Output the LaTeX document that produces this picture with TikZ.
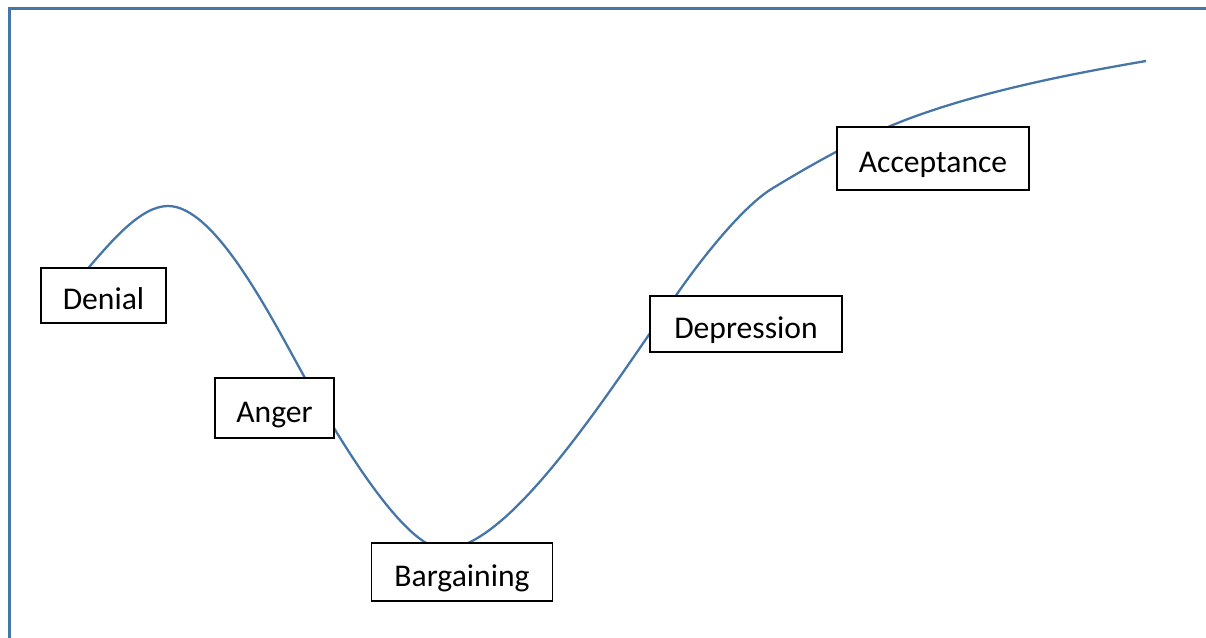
\documentclass[tikz,border=0pt]{standalone}
\usepackage{fontspec}
\setmainfont{Carlito}
\usetikzlibrary{backgrounds}
\pgfdeclarelayer{edgelayer}
\pgfdeclarelayer{nodelayer}
\pgfsetlayers{edgelayer,nodelayer,main}
\definecolor{stageblue}{RGB}{70,117,168}
\tikzset{font=\fontsize{18pt}{21pt}\selectfont}
\tikzstyle{stagebox}=[draw=black,fill=white,line width=0.9pt,inner sep=0pt,text height=16pt,text depth=0pt]
\tikzstyle{curve}=[draw=stageblue,line width=1.3pt]
\tikzstyle{frame}=[draw=stageblue,line width=1.7pt]

\begin{document}
\begin{tikzpicture}[x=0.02cm,y=-0.02cm]
	\useasboundingbox (0,0) rectangle (1206,638);
	\begin{pgfonlayer}{nodelayer}
		\node [style=stagebox,minimum width=2.5cm,minimum height=1.1cm] (denial) at (103.5,295.5) {Denial};
		\node [style=stagebox,minimum width=2.38cm,minimum height=1.2cm] (anger) at (274.5,408) {Anger};
		\node [style=stagebox,minimum width=3.62cm,minimum height=1.16cm] (bargaining) at (462,572) {Bargaining};
		\node [style=stagebox,minimum width=3.84cm,minimum height=1.12cm] (depression) at (746,324) {Depression};
		\node [style=stagebox,minimum width=3.84cm,minimum height=1.26cm] (acceptance) at (933,158.5) {Acceptance};
	\end{pgfonlayer}
	\begin{pgfonlayer}{edgelayer}
		\draw[style=frame] (1206,8.5) -- (9.5,8.5) -- (9.5,638);
		\draw[style=curve] (84,273) .. controls (110,243) and (140,206) .. (168,206)
			.. controls (215,206) and (270,315) .. (305,378)
			.. controls (340,441) and (405,549) .. (444,549)
			.. controls (510,549) and (610,390) .. (677,294)
			.. controls (702,258) and (743,206) .. (773,188)
			.. controls (811,165) and (850,143) .. (888,127)
			.. controls (968,93) and (1076,73) .. (1146,61);
	\end{pgfonlayer}
\end{tikzpicture}
\end{document}
